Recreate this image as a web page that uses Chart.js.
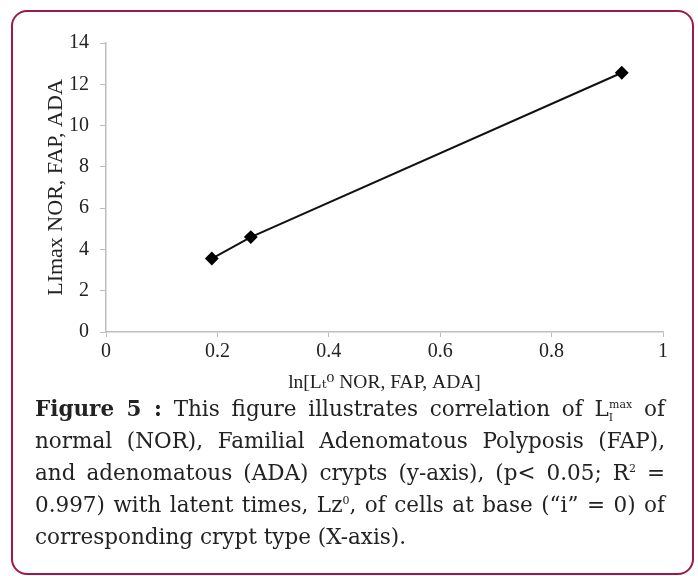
<!DOCTYPE html>
<html>
<head>
<meta charset="utf-8">
<script src="https://cdn.jsdelivr.net/npm/chart.js@4"></script>
<style>
  html, body { margin: 0; padding: 0; background: #fff; }
  body { width: 698px; height: 576px; position: relative; overflow: hidden; }
  .frame {
    position: absolute; left: 11px; top: 10px; width: 679px; height: 561px;
    border: 2.5px solid #9c1b45; border-radius: 16px;
  }
  .chartbox { position: absolute; left: 0; top: 0; width: 698px; height: 395px; }
  .caption {
    position: absolute; left: 35px; top: 393px; width: 630px;
    font-family: "DejaVu Serif", "Liberation Serif", serif; font-size: 21.5px; color: #222;
    line-height: 32px;
  }
  .caption div { text-align: justify; text-align-last: justify; }
  .caption div.last { text-align-last: left; }
  .caption sup, .caption sub { font-size: 11px; line-height: 0; }
</style>
</head>
<body>
<div class="frame"></div>
<div class="chartbox"><canvas id="chart" width="698" height="395"></canvas></div>
<div class="caption">
  <div><b>Figure 5 :</b> This figure illustrates correlation of L<sub>I</sub><sup style="margin-left:-4px">max</sup> of</div>
  <div>normal (NOR), Familial Adenomatous Polyposis (FAP),</div>
  <div>and adenomatous (ADA) crypts (y-axis), (p&lt; 0.05; R<sup>2</sup> =</div>
  <div>0.997) with latent times, Lz<sup>0</sup>, of cells at base (“i” = 0) of</div>
  <div class="last">corresponding crypt type (X-axis).</div>
</div>
<script>
// verdier lest av figuren
const xVerdier = [0.19, 0.26, 0.926];
const yVerdier = [3.56, 4.6, 12.56];
const xTitel = 'ln[Lₜ⁰ NOR, FAP, ADA]';
const yTitel = 'LImax NOR, FAP, ADA';

const punkter = xVerdier.map((x, i) => ({ x: x, y: yVerdier[i] }));
const serif = '"Liberation Serif", "DejaVu Serif", serif';

new Chart(document.getElementById('chart'), {
    type: 'scatter',
    data: {
        datasets: [{
            data: punkter,
            showLine: true,
            borderColor: '#111',
            borderWidth: 2,
            pointStyle: 'rectRot',
            pointRadius: 5.5,
            pointBackgroundColor: '#000',
            pointBorderColor: '#000'
        }]
    },
    options: {
        responsive: false,
        animation: false,
        layout: { padding: { left: 43, right: 35, top: 43, bottom: 0 } },
        plugins: { legend: { display: false }, tooltip: { enabled: false } },
        scales: {
            x: {
                type: 'linear', min: 0, max: 1,
                ticks: { stepSize: 0.2, color: '#222', font: { family: serif, size: 20 }, padding: 3,
                    callback: v => String(+v.toFixed(1)) },
                grid: { drawOnChartArea: false, color: '#bdbdbd', tickLength: 5 },
                border: { color: '#bdbdbd', width: 1.5 },
                title: { display: true, text: xTitel, color: '#222', font: { family: serif, size: 19.5 }, padding: { top: 1, bottom: 0 } },
                afterFit: s => { s.height = 63; }
            },
            y: {
                min: 0, max: 14,
                ticks: { stepSize: 2, color: '#222', font: { family: serif, size: 20 }, padding: 11 },
                grid: { drawOnChartArea: false, color: '#bdbdbd', tickLength: 6 },
                border: { color: '#bdbdbd', width: 1.5 },
                title: { display: true, text: yTitel, color: '#222', font: { family: serif, size: 22 }, padding: { top: 0, bottom: 4 } },
                afterFit: s => { s.width = 63; }
            }
        }
    }
});
</script>
</body>
</html>
